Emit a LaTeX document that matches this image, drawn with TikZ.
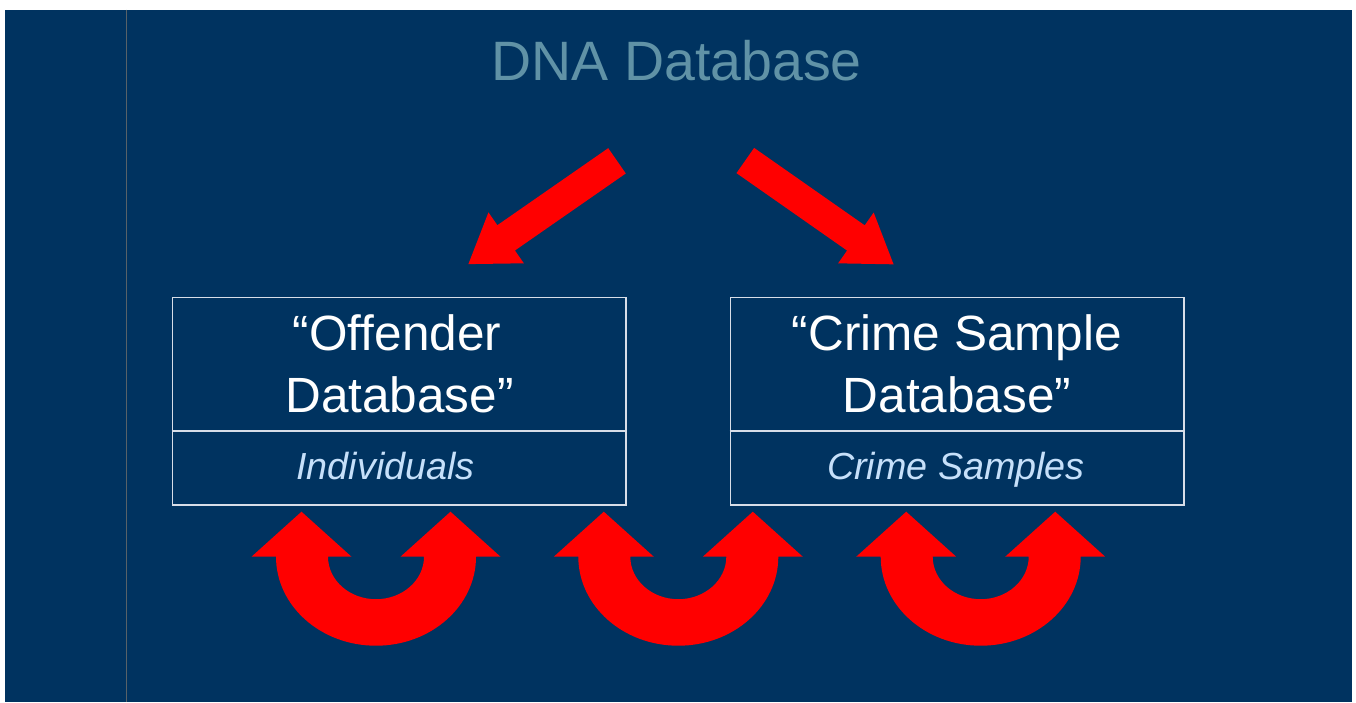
\documentclass[tikz,border=0pt]{standalone}
\usepackage{fontspec}
\setmainfont{Liberation Sans}
\usetikzlibrary{calc}

\definecolor{navy}{RGB}{0,51,96}
\definecolor{sidegray}{RGB}{88,98,104}
\definecolor{titleblue}{RGB}{96,146,166}
\definecolor{boxline}{RGB}{215,222,232}
\definecolor{subblue}{RGB}{198,224,250}
\definecolor{arrowred}{RGB}{255,0,0}

\tikzset{
  dbbox/.style={draw=boxline, line width=1.3pt, inner sep=0pt, minimum width=453.7pt, minimum height=207.7pt},
  divider/.style={draw=boxline, line width=1.3pt},
  headline/.style={anchor=base, text=white, inner sep=0pt, font=\fontsize{49.5}{60}\selectfont},
  subline/.style={anchor=base, text=subblue, inner sep=0pt, font=\itshape\fontsize{37.7}{44}\selectfont},
  % straight block arrow, tail at the origin, pointing along +x
  blockarrow/.pic={
    \fill[arrowred] (0,-15.4) -- (135,-15.4) -- (135,-31) -- (181,0)
      -- (135,31) -- (135,15.4) -- (0,15.4) -- cycle;
  },
  % U-turn arrow with both heads pointing up, centred on the origin
  uturn/.pic={
    \fill[arrowred] (-74.5,-45) -- (-124.5,0) -- (-100,0)
      arc[start angle=180, end angle=360, x radius=100pt, y radius=89pt]
      -- (124.5,0) -- (74.5,-45) -- (24.5,0) -- (48,0)
      arc[start angle=0, end angle=-180, x radius=48pt, y radius=42.5pt]
      -- (-24.5,0) -- cycle;
  }
}

\begin{document}
\begin{tikzpicture}[x=1pt, y=-1pt]
  \useasboundingbox (0,0) rectangle (1356,702);
  \fill[white] (0,0) rectangle (1356,702);
  \fill[navy] (5,9.5) rectangle (1352,702);
  \draw[sidegray, line width=1.5pt] (126.7,9.5) -- (126.7,702);

  % title
  \node[anchor=base, text=titleblue, inner sep=0pt, font=\fontsize{55.5}{66}\selectfont]
    (title) at (676.7,80) {DNA Database};

  % arrows from the title down to the two databases
  \pic[rotate=214.8] (toleft) at (617,160.8) {blockarrow};
  \pic[rotate=-35] (toright) at (745.3,160.5) {blockarrow};

  % offender database
  \node[dbbox] (offbox) at (399.2,401.2) {};
  \draw[divider] ($(offbox.north west)!0.642!(offbox.south west)$)
    -- ($(offbox.north east)!0.642!(offbox.south east)$);
  \node[headline] (off1) at (397,350) {“Offender};
  \node[headline] (off2) at (399.5,412.5) {Database”};
  \node[subline] (offsub) at (385.5,479.3) {Individuals};

  % crime sample database
  \node[dbbox] (crimebox) at (957,401.2) {};
  \draw[divider] ($(crimebox.north west)!0.642!(crimebox.south west)$)
    -- ($(crimebox.north east)!0.642!(crimebox.south east)$);
  \node[headline] (crime1) at (957,350) {“Crime Sample};
  \node[headline] (crime2) at (957,412.5) {Database”};
  \node[subline] (crimesub) at (956,479.3) {Crime Samples};

  % matching loops under the databases
  \pic (loopa) at (376,556.7) {uturn};
  \pic (loopb) at (678.3,556.7) {uturn};
  \pic (loopc) at (980.7,556.7) {uturn};
\end{tikzpicture}
\end{document}
